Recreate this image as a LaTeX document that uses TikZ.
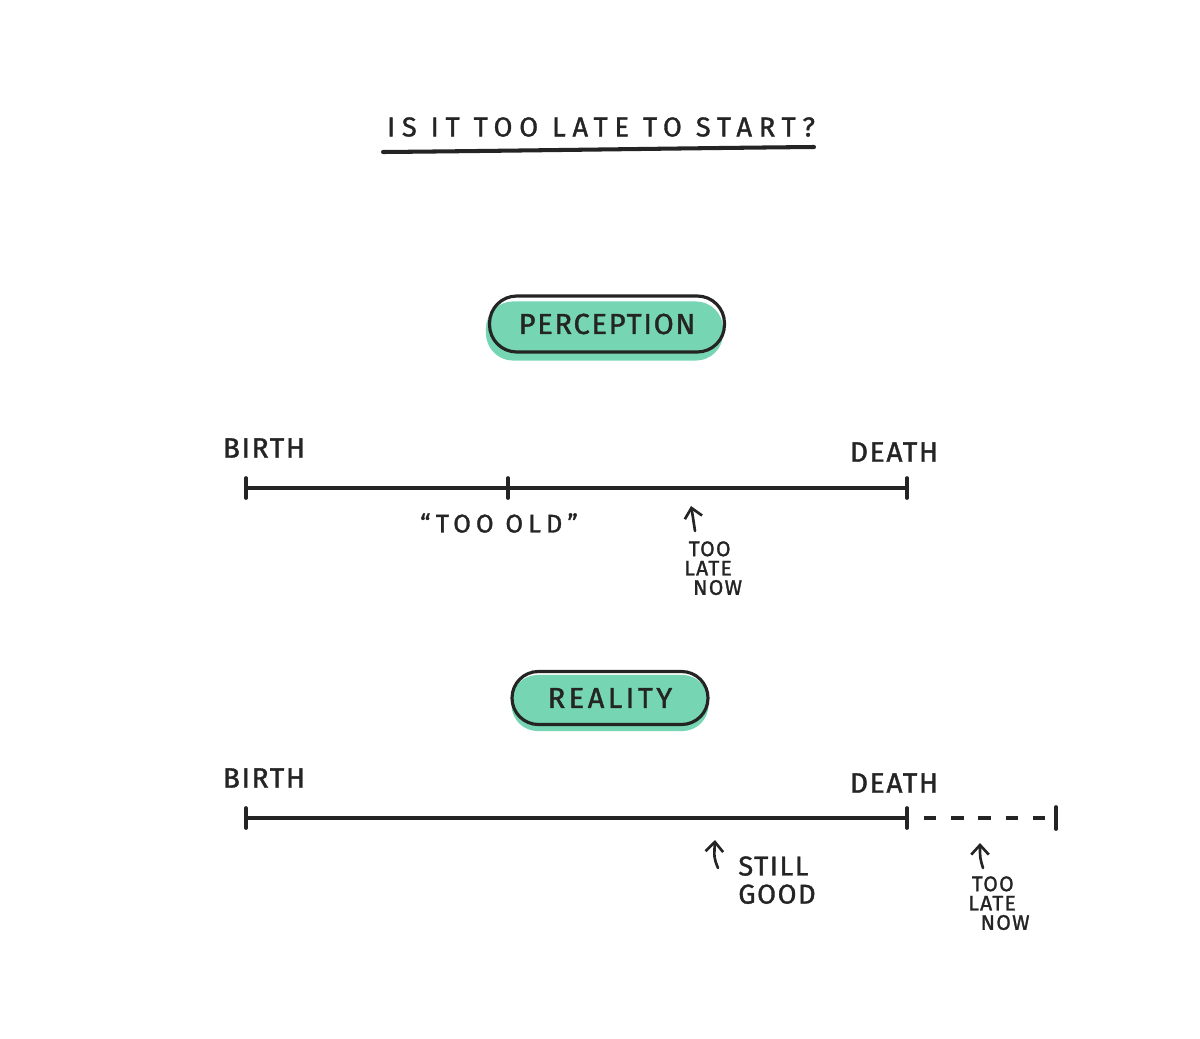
\documentclass[tikz,border=0pt]{standalone}
\usepackage{fontspec}
\setmainfont{Fira Sans}
\newfontfamily\handA[LetterSpace=25,FakeBold=1.3]{Fira Sans}
\newfontfamily\handB[LetterSpace=6,FakeBold=1.3]{Fira Sans}
\newfontfamily\handC[LetterSpace=12,FakeBold=1.3]{Fira Sans}
\newfontfamily\handD[LetterSpace=20,FakeBold=1.3]{Fira Sans}
\usetikzlibrary{arrows.meta,calc,backgrounds}
\definecolor{ink}{RGB}{36,36,36}
\definecolor{mint}{RGB}{118,214,180}
\begin{document}
\begin{tikzpicture}[x=0.02cm,y=-0.02cm,
  lbl/.style={font=\handB\fontsize{16}{18}\selectfont, text=ink, inner sep=0pt},
  small/.style={font=\handB\fontsize{12}{11}\selectfont, text=ink, inner sep=0pt, align=left},
  tl/.style={draw=ink, line width=2.3pt, line cap=round},
  tickmark/.style={draw=ink, line width=2.1pt, line cap=round},
  pill/.style={draw=ink, line width=1.8pt, text=ink, inner sep=0pt},
  arr/.style={draw=ink, line width=1.5pt, line cap=round, -{Straight Barb[length=5.5pt,width=10pt,line width=1.5pt]}}
]
\begin{scope}[on background layer]
\fill[white] (0,0) rectangle (1200,1038);
\end{scope}
\useasboundingbox (0,0) rectangle (1200,1038);

% title
\node[font=\handA\fontsize{15.5}{17}\selectfont, text=ink, inner sep=0pt] (title) at (601,127) {IS IT TOO LATE TO START?};
\coordinate (ulA) at (383,152);
\coordinate (ulB) at (814,147);
\draw[tl] (ulA) .. controls (500,151) and (700,148) .. (ulB);

% perception pill
\node[pill, font=\handB\fontsize{16.5}{18}\selectfont, minimum width=4.7cm, minimum height=1.12cm, rounded corners=15.5pt] (perc) at (607,324) {PERCEPTION};
\begin{scope}[on background layer]
\fill[mint, rounded corners=15.5pt] ($(perc.south west)+(-2,7)$) rectangle ($(perc.north east)+(-3,7)$);
\end{scope}

% perception timeline
\coordinate (b1) at (246,488);
\coordinate (o1) at (508,488);
\coordinate (d1) at (907,488);
\draw[tl] (b1) -- (o1) -- (d1);
\draw[tickmark] ($(b1)+(0,-10)$) -- ($(b1)+(0,10)$);
\draw[tickmark] ($(o1)+(0,-10)$) -- ($(o1)+(0,10)$);
\draw[tickmark] ($(d1)+(0,-10)$) -- ($(d1)+(0,10)$);
\node[lbl] (birth1) at (264,448) {BIRTH};
\node[lbl] (death1) at (894,452) {DEATH};
\node[lbl, font=\handD\fontsize{14.5}{16}\selectfont] (old) at (499,523) {“TOO OLD”};
\node[small, anchor=north west] (late1) at (684,541) {\hspace*{2.5pt}TOO\\LATE\\\hspace*{5pt}NOW};
\coordinate (a1tail) at (695,531);
\coordinate (a1tip) at (691,506);
\draw[arr] (a1tail) .. controls (694,520) .. (a1tip);

% reality pill
\node[pill, font=\handC\fontsize{16.5}{18}\selectfont, minimum width=3.92cm, minimum height=1.06cm, rounded corners=15pt] (real) at (610,698) {REALITY};
\begin{scope}[on background layer]
\fill[mint, rounded corners=15pt] ($(real.south west)+(1,5)$) rectangle ($(real.north east)+(-1,5)$);
\end{scope}

% reality timeline
\coordinate (b2) at (246,818);
\coordinate (d2) at (907,818);
\coordinate (e2s) at (924,818);
\coordinate (e2) at (1056,818);
\draw[tl] (b2) -- (d2);
\draw[draw=ink, line width=1.9pt, dash pattern=on 7pt off 8.5pt] (e2s) -- ($(e2)+(-4,0)$);
\draw[tickmark] ($(b2)+(0,-10)$) -- ($(b2)+(0,10)$);
\draw[tickmark] ($(d2)+(0,-10)$) -- ($(d2)+(0,10)$);
\draw[tickmark] ($(e2)+(0,-11)$) -- ($(e2)+(0,11)$);
\node[lbl] (birth2) at (264,778) {BIRTH};
\node[lbl] (death2) at (894,783) {DEATH};
\node[lbl, align=left, anchor=north west, font=\handB\fontsize{15.5}{16}\selectfont] (good) at (738,856) {STILL\\GOOD};
\coordinate (a2tail) at (718,868);
\coordinate (a2tip) at (715,840);
\draw[arr] (a2tail) .. controls (714,858) .. (a2tip);
\node[small, anchor=north west] (late2) at (968,876) {\hspace*{2pt}TOO\\LATE\\\hspace*{7pt}NOW};
\coordinate (a3tail) at (983,868);
\coordinate (a3tip) at (980,843);
\draw[arr] (a3tail) .. controls (980,858) .. (a3tip);
\end{tikzpicture}
\end{document}
